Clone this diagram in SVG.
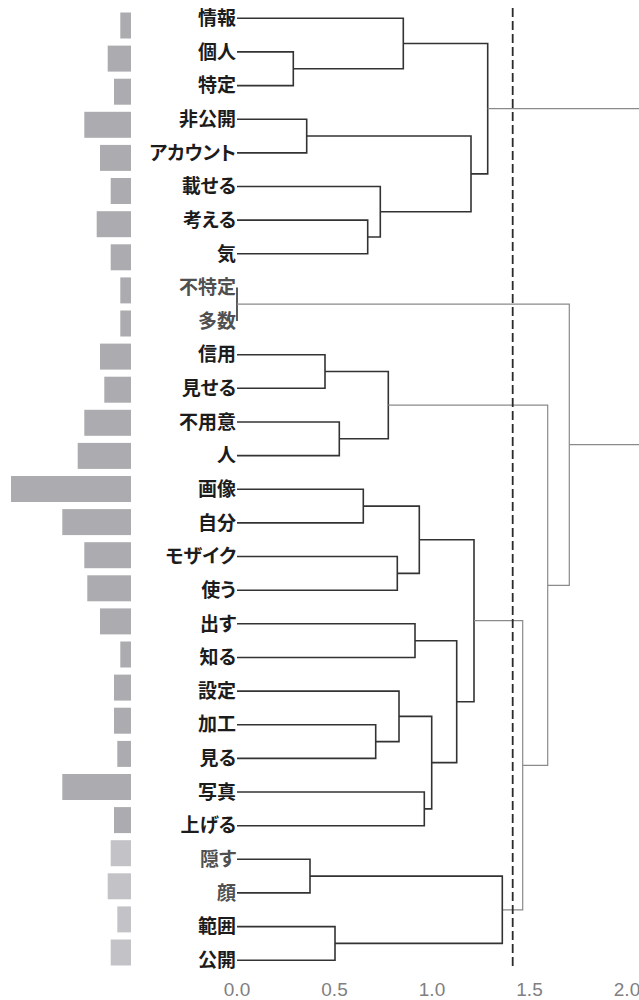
<svg xmlns="http://www.w3.org/2000/svg" width="639" height="1000" viewBox="0 0 639 1000">
<style>
.bar{fill:#acacb0}
.bar2{fill:#c3c3c7}
.lbl{font-family:"Noto Sans CJK JP","Noto Sans CJK SC",sans-serif;font-size:19px;font-weight:bold;fill:#1c1c1c;text-anchor:end;font-feature-settings:"palt"}
.lbl2{fill:#505050}
.ax{font-family:"Liberation Sans",Arial,sans-serif;font-size:19px;fill:#808080;text-anchor:middle}
.d{fill:none;stroke:#333;stroke-width:1.6}
.g{fill:none;stroke:#8a8a8a;stroke-width:1.2}
.cut{fill:none;stroke:#2a2a2a;stroke-width:1.8;stroke-dasharray:9 4}
</style>
<g id="bars">
<rect class="bar" x="120.3" y="12.5" width="10.7" height="26"/>
<rect class="bar" x="107.7" y="45.6" width="23.3" height="26"/>
<rect class="bar" x="114" y="78.7" width="17" height="26"/>
<rect class="bar" x="84.3" y="111.8" width="46.7" height="26"/>
<rect class="bar" x="100" y="144.9" width="31" height="26"/>
<rect class="bar" x="110.7" y="178" width="20.3" height="26"/>
<rect class="bar" x="96.7" y="211.2" width="34.3" height="26"/>
<rect class="bar" x="110.7" y="244.3" width="20.3" height="26"/>
<rect class="bar" x="120.3" y="277.4" width="10.7" height="26"/>
<rect class="bar" x="120.3" y="310.5" width="10.7" height="26"/>
<rect class="bar" x="100" y="343.6" width="31" height="26"/>
<rect class="bar" x="104.3" y="376.7" width="26.7" height="26"/>
<rect class="bar" x="84.3" y="409.8" width="46.7" height="26"/>
<rect class="bar" x="77.7" y="442.9" width="53.3" height="26"/>
<rect class="bar" x="11" y="476" width="120" height="26"/>
<rect class="bar" x="62.3" y="509.1" width="68.7" height="26"/>
<rect class="bar" x="84.3" y="542.2" width="46.7" height="26"/>
<rect class="bar" x="87.3" y="575.3" width="43.7" height="26"/>
<rect class="bar" x="100" y="608.4" width="31" height="26"/>
<rect class="bar" x="120.3" y="641.5" width="10.7" height="26"/>
<rect class="bar" x="114" y="674.6" width="17" height="26"/>
<rect class="bar" x="114" y="707.7" width="17" height="26"/>
<rect class="bar" x="117.3" y="740.9" width="13.7" height="26"/>
<rect class="bar" x="62.3" y="774" width="68.7" height="26"/>
<rect class="bar" x="114" y="807.1" width="17" height="26"/>
<rect class="bar2" x="110.7" y="840.2" width="20.3" height="26"/>
<rect class="bar2" x="107.7" y="873.3" width="23.3" height="26"/>
<rect class="bar2" x="117.3" y="906.4" width="13.7" height="26"/>
<rect class="bar2" x="110.7" y="939.5" width="20.3" height="26"/>
</g>
<g id="labels">
<text id="n-jouhou" class="lbl" x="236" y="25">情報</text>
<text id="n-kojin" class="lbl" x="236" y="58.6">個人</text>
<text id="n-tokutei" class="lbl" x="236" y="92.3">特定</text>
<text id="n-hikoukai" class="lbl" x="236" y="125.9">非公開</text>
<text id="n-account" class="lbl" x="236" y="159.6">アカウント</text>
<text id="n-noseru" class="lbl" x="236" y="193.2">載せる</text>
<text id="n-kangaeru" class="lbl" x="236" y="226.8">考える</text>
<text id="n-ki" class="lbl" x="236" y="260.5">気</text>
<text id="n-futokutei" class="lbl lbl2" x="236" y="294.1">不特定</text>
<text id="n-tasuu" class="lbl lbl2" x="236" y="327.8">多数</text>
<text id="n-shinyou" class="lbl" x="236" y="361.4">信用</text>
<text id="n-miseru" class="lbl" x="236" y="395">見せる</text>
<text id="n-fuyoui" class="lbl" x="236" y="428.7">不用意</text>
<text id="n-hito" class="lbl" x="236" y="462.3">人</text>
<text id="n-gazou" class="lbl" x="236" y="496">画像</text>
<text id="n-jibun" class="lbl" x="236" y="529.6">自分</text>
<text id="n-mosaic" class="lbl" x="236" y="563.2">モザイク</text>
<text id="n-tsukau" class="lbl" x="236" y="596.9">使う</text>
<text id="n-dasu" class="lbl" x="236" y="630.5">出す</text>
<text id="n-shiru" class="lbl" x="236" y="664.2">知る</text>
<text id="n-settei" class="lbl" x="236" y="697.8">設定</text>
<text id="n-kakou" class="lbl" x="236" y="731.4">加工</text>
<text id="n-miru" class="lbl" x="236" y="765.1">見る</text>
<text id="n-shashin" class="lbl" x="236" y="798.7">写真</text>
<text id="n-ageru" class="lbl" x="236" y="832.4">上げる</text>
<text id="n-kakusu" class="lbl lbl2" x="236" y="866">隠す</text>
<text id="n-kao" class="lbl lbl2" x="236" y="899.6">顔</text>
<text id="n-hani" class="lbl" x="236" y="933.3">範囲</text>
<text id="n-koukai" class="lbl" x="236" y="966.9">公開</text>
</g>
<g id="connectors">
<path class="d" d="M237 51.9H293.3V85.6H237"/>
<path class="d" d="M237 18.3H403.3V68.7H293.3"/>
<path class="d" d="M237 119.2H306.7V152.9H237"/>
<path class="d" d="M237 220.1H367.7V253.8H237"/>
<path class="d" d="M237 186.5H380.3V237H367.7"/>
<path class="d" d="M306.7 136H471V211.7H380.3"/>
<path class="d" d="M403.3 43.5H487.7V173.9H471"/>
<path class="g" d="M487.7 108.7H639"/>
<path class="d" d="M237 287.4V321.1"/>
<path class="g" d="M237 304.2H569.3V585.3H547.7"/>
<path class="d" d="M237 354.7H325V388.3H237"/>
<path class="d" d="M237 422H339.3V455.6H237"/>
<path class="d" d="M325 371.5H388.3V438.8H339.3"/>
<path class="g" d="M388.3 405.2H547.7V765.3H522.7"/>
<path class="d" d="M237 489.3H363.3V522.9H237"/>
<path class="d" d="M237 556.5H397.3V590.2H237"/>
<path class="d" d="M363.3 506.1H419.3V573.4H397.3"/>
<path class="d" d="M237 623.8H415V657.5H237"/>
<path class="d" d="M237 724.7H375.7V758.4H237"/>
<path class="d" d="M237 691.1H399V741.6H375.7"/>
<path class="d" d="M237 792H424.3V825.7H237"/>
<path class="d" d="M399 716.4H431.7V808.9H424.3"/>
<path class="d" d="M415 640.7H456.7V762.6H431.7"/>
<path class="d" d="M419.3 539.7H474V701.7H456.7"/>
<path class="g" d="M474 620.7H522.7V909.8H502.3"/>
<path class="d" d="M237 859.3H310V892.9H237"/>
<path class="d" d="M237 926.6H335V960.2H237"/>
<path class="d" d="M310 876.1H502.3V943.4H335"/>
<path class="g" d="M569.3 444.7H639"/>
<path class="cut" d="M512.7 8V970"/>
</g>
<g id="axis">
<text class="ax" x="237" y="996">0.0</text>
<text class="ax" x="334.5" y="996">0.5</text>
<text class="ax" x="432" y="996">1.0</text>
<text class="ax" x="529.5" y="996">1.5</text>
<text class="ax" x="627" y="996">2.0</text>
</g>
</svg>
